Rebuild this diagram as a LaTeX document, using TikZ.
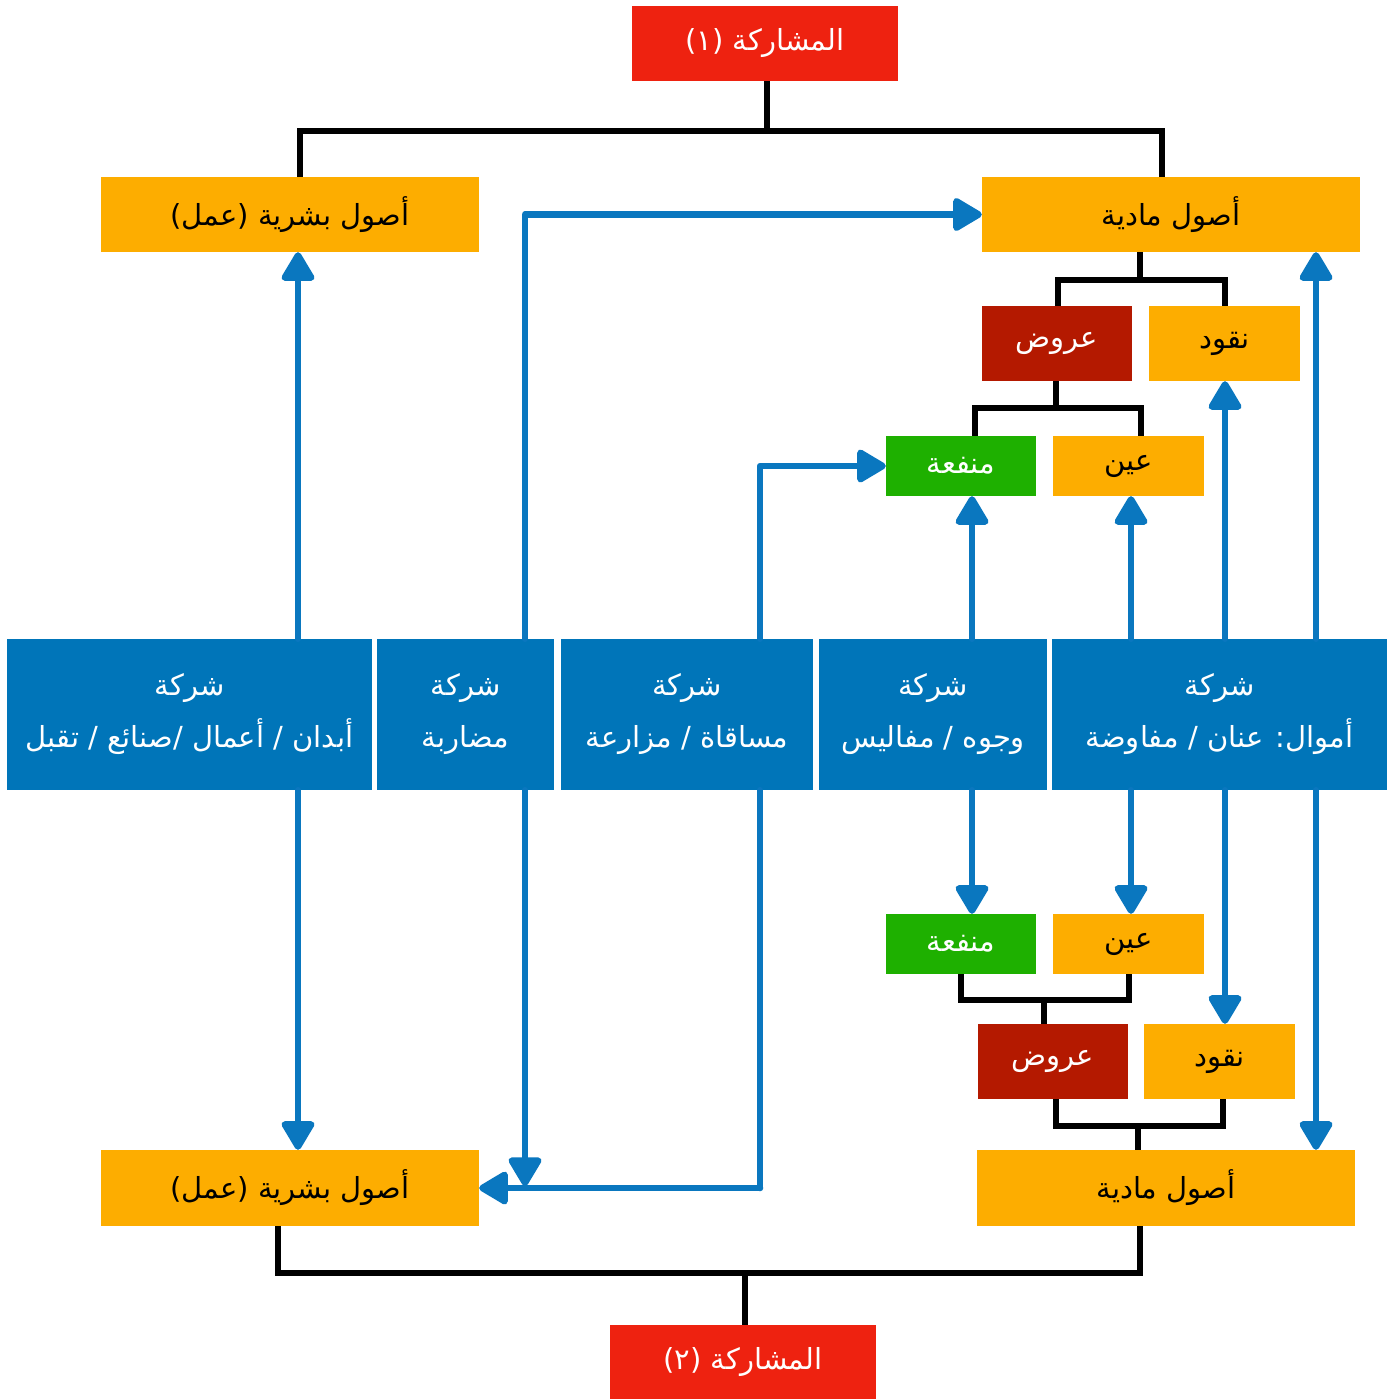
\documentclass[tikz,border=0pt]{standalone}
\usepackage{fontspec}
\newfontfamily\arabicfont[Script=Arabic]{DejaVu Sans}
\TeXXeTstate=1
\usetikzlibrary{arrows.meta}
\newcommand{\artx}[1]{\beginR #1\endR}
\definecolor{cred}{HTML}{EE2210}
\definecolor{corange}{HTML}{FDAD00}
\definecolor{cdred}{HTML}{B41900}
\definecolor{cgreen}{HTML}{1EB000}
\definecolor{cblue}{HTML}{0075B9}
\definecolor{carrow}{HTML}{0A77BF}
\tikzset{
  box/.style={draw=none, inner sep=0pt, align=center, font=\arabicfont\fontsize{29}{52}\selectfont},
  redbox/.style={box, fill=cred, text=white, minimum width=266, minimum height=75},
  orbox/.style={box, fill=corange, text=black, minimum width=378, minimum height=75},
  smallor/.style={box, fill=corange, text=black, minimum width=151},
  drbox/.style={box, fill=cdred, text=white, minimum width=150, minimum height=75},
  grbox/.style={box, fill=cgreen, text=white, minimum width=150, minimum height=60},
  bluebox/.style={box, fill=cblue, text=white, minimum height=151},
  tree/.style={draw=black, line width=5.5, line join=miter},
  barrow/.style={draw=carrow, line width=6.5, line cap=round, line join=round, -{Triangle[width=36pt,length=32pt,round]}},
  bline/.style={draw=carrow, line width=6.5, line cap=round, line join=round}
}
\begin{document}
\begin{tikzpicture}[x=1pt,y=-1pt]
\useasboundingbox (0,0) rectangle (1399,1399);
\fill[white] (0,0) rectangle (1399,1399);
% nodes
\node[redbox] (p1) at (765,43.5) {\artx{المشاركة (١)}};
\node[redbox, minimum height=74] (p2) at (743,1362) {\artx{المشاركة (٢)}};
\node[orbox] (hl1) at (290,214.5) {\artx{أصول بشرية (عمل)}};
\node[orbox] (ml1) at (1171,214.5) {\artx{أصول مادية}};
\node[drbox] (ar1) at (1057,343.5) {\artx{عروض}};
\node[smallor, minimum height=75] (nq1) at (1224.5,343.5) {\artx{نقود}};
\node[grbox] (mn1) at (961,466) {\artx{منفعة}};
\node[smallor, minimum height=60] (ay1) at (1128.5,466) {\artx{عين}};
\node[bluebox, minimum width=365] (b1) at (189.5,714.5) {\artx{شركة}\\\artx{أبدان / أعمال /صنائع / تقبل}};
\node[bluebox, minimum width=177] (b2) at (465.5,714.5) {\artx{شركة}\\\artx{مضاربة}};
\node[bluebox, minimum width=252] (b3) at (687,714.5) {\artx{شركة}\\\artx{مساقاة / مزارعة}};
\node[bluebox, minimum width=228] (b4) at (933,714.5) {\artx{شركة}\\\artx{وجوه / مفاليس}};
\node[bluebox, minimum width=335] (b5) at (1219.5,714.5) {\artx{شركة}\\\artx{أموال: عنان / مفاوضة}};
\node[grbox] (mn2) at (961,944) {\artx{منفعة}};
\node[smallor, minimum height=60] (ay2) at (1128.5,944) {\artx{عين}};
\node[drbox] (ar2) at (1053,1061.5) {\artx{عروض}};
\node[smallor, minimum height=75] (nq2) at (1219.5,1061.5) {\artx{نقود}};
\node[orbox, minimum height=76] (hl2) at (290,1188) {\artx{أصول بشرية (عمل)}};
\node[orbox, minimum height=76] (ml2) at (1166,1188) {\artx{أصول مادية}};
% tree connectors
\coordinate (j1) at (767,131);
\draw[tree] (767,0 |- p1.south) -- (j1);
\draw[tree] (300,0 |- hl1.north) |- (j1) -| (1162,0 |- ml1.north);
\coordinate (j2) at (1140,280);
\draw[tree] (1140,0 |- ml1.south) -- (j2);
\draw[tree] (1058,0 |- ar1.north) |- (j2) -| (1225,0 |- nq1.north);
\coordinate (j3) at (1056,408);
\draw[tree] (1056,0 |- ar1.south) -- (j3);
\draw[tree] (975,0 |- mn1.north) |- (j3) -| (1141,0 |- ay1.north);
\coordinate (j4) at (1044,1000);
\draw[tree] (961,0 |- mn2.south) |- (j4) -| (1129,0 |- ay2.south);
\draw[tree] (j4) -- (1044,0 |- ar2.north);
\coordinate (j5) at (1138,1126);
\draw[tree] (1056,0 |- ar2.south) |- (j5) -| (1223,0 |- nq2.south);
\draw[tree] (j5) -- (1138,0 |- ml2.north);
\coordinate (j6) at (745,1273);
\draw[tree] (278,0 |- hl2.south) |- (j6) -| (1140,0 |- ml2.south);
\draw[tree] (j6) -- (745,0 |- p2.north);
% blue arrows
\draw[barrow] (298,0 |- b1.north) -- (298,0 |- hl1.south);
\draw[barrow] (298,0 |- b1.south) -- (298,0 |- hl2.north);
\draw[barrow] (525,0 |- b2.north) |- (ml1.west);
\coordinate (c3) at (760,1188);
\draw[bline] (760,0 |- b3.south) -- (c3);
\draw[barrow] (c3) -- (hl2.east);
\draw[barrow] (525,0 |- b2.south) -- (525,1186);
\draw[barrow] (760,0 |- b3.north) |- (mn1.west);
\draw[barrow] (972,0 |- b4.north) -- (972,0 |- mn1.south);
\draw[barrow] (972,0 |- b4.south) -- (972,0 |- mn2.north);
\draw[barrow] (1131,0 |- b5.north) -- (1131,0 |- ay1.south);
\draw[barrow] (1131,0 |- b5.south) -- (1131,0 |- ay2.north);
\draw[barrow] (1225,0 |- b5.north) -- (1225,0 |- nq1.south);
\draw[barrow] (1225,0 |- b5.south) -- (1225,0 |- nq2.north);
\draw[barrow] (1316,0 |- b5.north) -- (1316,0 |- ml1.south);
\draw[barrow] (1316,0 |- b5.south) -- (1316,0 |- ml2.north);
\end{tikzpicture}
\end{document}
